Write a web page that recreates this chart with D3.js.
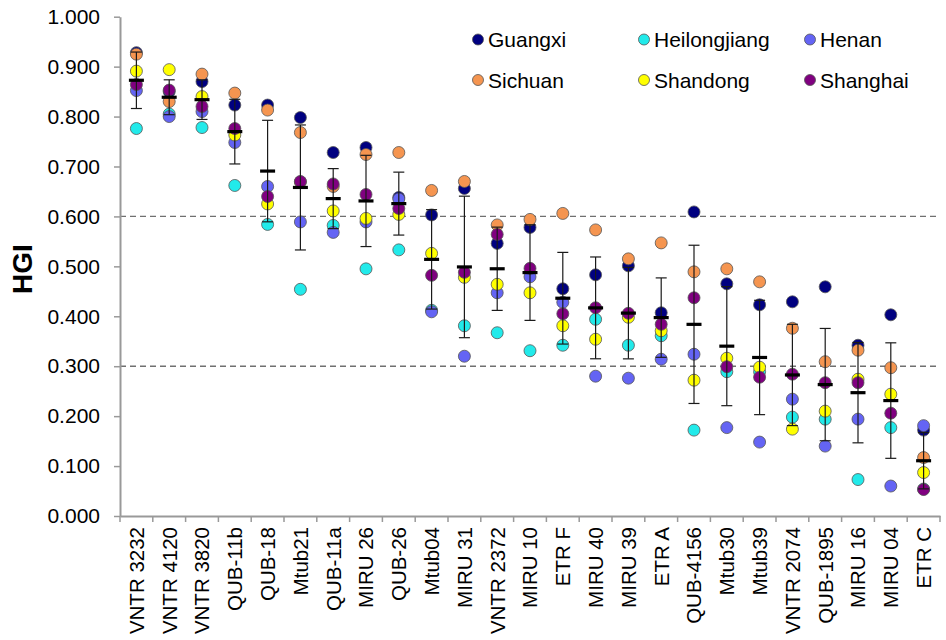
<!DOCTYPE html>
<html>
<head>
<meta charset="utf-8">
<script src="https://cdn.jsdelivr.net/npm/d3@7"></script>
<style>
  html, body { margin: 0; padding: 0; background: #fff; }
  svg { display: block; font-family: "Liberation Sans", Arial, sans-serif; }
</style>
</head>
<body>
<svg id="chart" width="946" height="640"></svg>
<script>
// VNTR loci, ordered by mean HGI
const loci = ["VNTR 3232","VNTR 4120","VNTR 3820","QUB-11b","QUB-18","Mtub21","QUB-11a",
  "MIRU 26","QUB-26","Mtub04","MIRU 31","VNTR 2372","MIRU 10","ETR F","MIRU 40","MIRU 39",
  "ETR A","QUB-4156","Mtub30","Mtub39","VNTR 2074","QUB-1895","MIRU 16","MIRU 04","ETR C"];

// HGI per province, one value per locus
const guangxi      = [0.928,0.850,0.870,0.823,0.823,0.798,0.728,0.738,0.638,0.603,0.656,0.546,0.578,0.455,0.483,0.501,0.407,0.609,0.465,0.423,0.429,0.459,0.342,0.403,0.172];
const heilongjiang = [0.776,0.805,0.778,0.662,0.584,0.454,0.582,0.495,0.533,0.412,0.381,0.367,0.331,0.342,0.394,0.342,0.361,0.172,0.289,0.289,0.198,0.194,0.073,0.177,0.054];
const henan        = [0.852,0.800,0.810,0.748,0.660,0.589,0.568,0.589,0.635,0.409,0.320,0.447,0.479,0.428,0.280,0.276,0.314,0.324,0.177,0.148,0.234,0.140,0.194,0.060,0.181];
const sichuan      = [0.925,0.830,0.885,0.847,0.813,0.768,0.660,0.724,0.728,0.652,0.670,0.583,0.594,0.606,0.573,0.515,0.547,0.489,0.495,0.469,0.376,0.309,0.332,0.297,0.117];
const shandong     = [0.891,0.894,0.840,0.763,0.625,0.669,0.611,0.596,0.604,0.526,0.478,0.464,0.447,0.381,0.354,0.398,0.371,0.272,0.316,0.298,0.174,0.210,0.274,0.244,0.087];
const shanghai     = [0.864,0.853,0.820,0.776,0.640,0.670,0.665,0.644,0.616,0.482,0.488,0.564,0.496,0.405,0.417,0.406,0.384,0.437,0.299,0.278,0.284,0.267,0.267,0.206,0.053];

const seriesNames  = ["Guangxi","Heilongjiang","Henan","Sichuan","Shandong","Shanghai"];
const seriesValues = [guangxi, heilongjiang, henan, sichuan, shandong, shanghai];
const seriesColors = ["#000080","#22EAEA","#6464F4","#F59550","#FFFF00","#800080"];

const yTicks = [0,0.1,0.2,0.3,0.4,0.5,0.6,0.7,0.8,0.9,1.0];
const thresholds = [0.3, 0.6];

const svg = d3.select("#chart");
const plotLeft = 120, plotRight = 940, plotTop = 16.7, plotBottom = 516;

const x = d3.scaleBand().domain(loci).range([plotLeft, plotRight]).padding(0);
const y = d3.scaleLinear().domain([0, 1]).range([plotBottom, plotTop]);
const cx = d => x(d) + x.bandwidth() / 2;

// threshold reference lines
svg.append("g").selectAll("line").data(thresholds).join("line")
  .attr("x1", plotLeft).attr("x2", plotRight)
  .attr("y1", d => y(d)).attr("y2", d => y(d))
  .attr("stroke", "#707070").attr("stroke-width", 1.4)
  .attr("stroke-dasharray", "6,4");

// y axis
const yAxis = svg.append("g").attr("transform", `translate(${plotLeft},0)`)
  .call(d3.axisLeft(y).tickValues(yTicks).tickFormat(d3.format(".3f"))
    .tickSizeInner(6).tickSizeOuter(0).tickPadding(14));
yAxis.select(".domain").attr("stroke", "#999").attr("stroke-width", 2);
yAxis.selectAll(".tick line").attr("stroke", "#999").attr("stroke-width", 1.5);
yAxis.selectAll(".tick text").attr("font-size", 21).attr("fill", "#000")
  .attr("font-family", "Liberation Sans, Arial, sans-serif");

// x axis: labels at band centres, tick marks at band edges
const xAxis = svg.append("g").attr("transform", `translate(0,${plotBottom})`)
  .call(d3.axisBottom(x).tickSize(0).tickSizeOuter(0));
xAxis.select(".domain").attr("stroke", "#999").attr("stroke-width", 2);
xAxis.selectAll(".tick text")
  .attr("font-size", 20.5).attr("fill", "#000")
  .attr("font-family", "Liberation Sans, Arial, sans-serif")
  .attr("text-anchor", "end")
  .attr("transform", "translate(0,11) rotate(-90)")
  .attr("x", 0).attr("y", 0).attr("dy", "0.36em");
const edges = loci.map(d => x(d)).concat([plotRight]);
xAxis.append("g").selectAll("line").data(edges).join("line")
  .attr("x1", d => d).attr("x2", d => d).attr("y1", 0).attr("y2", 6)
  .attr("stroke", "#999").attr("stroke-width", 1.5);

// axis title
svg.append("text")
  .attr("transform", "translate(32,269) rotate(-90)")
  .attr("text-anchor", "middle")
  .attr("font-size", 28).attr("font-weight", "bold").attr("fill", "#000")
  .text("HGI");

// province points
seriesValues.forEach((vals, s) => {
  svg.append("g").selectAll("circle").data(loci).join("circle")
    .attr("cx", d => cx(d))
    .attr("cy", (d, i) => y(vals[i]))
    .attr("r", 6)
    .attr("fill", seriesColors[s])
    .attr("stroke", "#555").attr("stroke-width", 0.8);
});

// mean ± SD across provinces
const stats = loci.map((d, i) => {
  const v = seriesValues.map(arr => arr[i]);
  return { locus: d, mean: d3.mean(v), sd: d3.deviation(v) };
});
const eb = svg.append("g");
eb.selectAll("line.v").data(stats).join("line").attr("class", "v")
  .attr("x1", d => cx(d.locus)).attr("x2", d => cx(d.locus))
  .attr("y1", d => y(d.mean + d.sd)).attr("y2", d => y(d.mean - d.sd))
  .attr("stroke", "#1a1a1a").attr("stroke-width", 1.2);
["up", "dn"].forEach(k => {
  eb.selectAll("line." + k).data(stats).join("line").attr("class", k)
    .attr("x1", d => cx(d.locus) - 5.5).attr("x2", d => cx(d.locus) + 5.5)
    .attr("y1", d => y(k === "up" ? d.mean + d.sd : d.mean - d.sd))
    .attr("y2", d => y(k === "up" ? d.mean + d.sd : d.mean - d.sd))
    .attr("stroke", "#1a1a1a").attr("stroke-width", 1.2);
});
eb.selectAll("line.mean").data(stats).join("line").attr("class", "mean")
  .attr("x1", d => cx(d.locus) - 7.5).attr("x2", d => cx(d.locus) + 7.5)
  .attr("y1", d => y(d.mean)).attr("y2", d => y(d.mean))
  .attr("stroke", "#000").attr("stroke-width", 3.2);

// legend, three per row
const legend = svg.append("g");
const legX = [478, 644, 810], legY = [39.5, 80];
seriesNames.forEach((name, i) => {
  const g = legend.append("g")
    .attr("transform", `translate(${legX[i % 3]},${legY[Math.floor(i / 3)]})`);
  g.append("circle").attr("r", 5.5).attr("fill", seriesColors[i])
    .attr("stroke", "#555").attr("stroke-width", 0.8);
  g.append("text").attr("x", 10).attr("dy", "0.36em")
    .attr("font-size", 21).attr("fill", "#000").text(name);
});
</script>
</body>
</html>
